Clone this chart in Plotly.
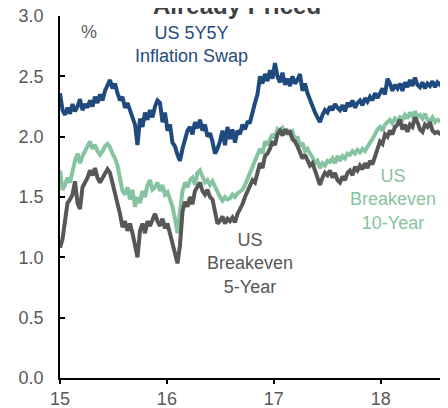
import numpy as np
import plotly.graph_objects as go

# sampling grid: decimal years (15 = 2015)
n_pts = 155
x_years = 15 + np.arange(n_pts) * (2.5 / 106.9)

swap_5y5y = [
    2.36, 2.22, 2.18, 2.24, 2.19, 2.27, 2.21, 2.25, 2.31, 2.22, 2.27, 2.24,
    2.30, 2.25, 2.33, 2.28, 2.35, 2.30, 2.38, 2.43, 2.47, 2.40, 2.44, 2.36,
    2.30, 2.33, 2.24, 2.28, 2.22, 2.18, 2.10, 1.93, 2.15, 2.08, 2.20, 2.14,
    2.22, 2.16, 2.25, 2.30, 2.28, 2.12, 2.20, 2.05, 2.10, 1.95, 1.92, 1.85,
    1.80, 1.90, 1.97, 2.05, 2.08, 2.02, 2.12, 2.07, 2.14, 2.05, 2.10, 2.00,
    2.03, 1.96, 1.86, 1.90, 1.96, 2.05, 1.93, 2.08, 1.98, 2.06, 1.95, 2.05,
    2.02, 2.10, 2.06, 2.12, 2.12, 2.22, 2.28, 2.35, 2.50, 2.44, 2.52, 2.46,
    2.55, 2.48, 2.61, 2.50, 2.45, 2.53, 2.43, 2.48, 2.42, 2.50, 2.44, 2.47,
    2.52, 2.38, 2.44, 2.36, 2.30, 2.26, 2.20, 2.16, 2.12, 2.18, 2.22, 2.20,
    2.25, 2.22, 2.27, 2.24, 2.22, 2.26, 2.21, 2.28, 2.25, 2.30, 2.24, 2.28,
    2.30, 2.26, 2.32, 2.29, 2.33, 2.30, 2.36, 2.32, 2.37, 2.40, 2.35, 2.48,
    2.44, 2.38, 2.43, 2.40, 2.44, 2.38, 2.45, 2.41, 2.47, 2.42, 2.49, 2.43,
    2.41, 2.45, 2.40, 2.44, 2.42, 2.46, 2.41, 2.45, 2.43, 2.46, 2.44,
]

breakeven_10y = [
    1.72, 1.56, 1.60, 1.66, 1.62, 1.72, 1.80, 1.86, 1.78, 1.84, 1.88, 1.92,
    1.96, 1.90, 1.93, 1.88, 1.85, 1.88, 1.92, 1.94, 1.91, 1.86, 1.82, 1.76,
    1.66, 1.55, 1.52, 1.58, 1.48, 1.56, 1.42, 1.50, 1.45, 1.55, 1.50, 1.60,
    1.64, 1.56, 1.58, 1.62, 1.55, 1.60, 1.52, 1.54, 1.48, 1.42, 1.32, 1.20,
    1.38, 1.55, 1.62, 1.58, 1.64, 1.66, 1.60, 1.70, 1.72, 1.66, 1.62, 1.64,
    1.60, 1.63, 1.58, 1.54, 1.50, 1.47, 1.50, 1.48, 1.49, 1.52, 1.50, 1.53,
    1.55, 1.56, 1.60, 1.65, 1.70, 1.76, 1.80, 1.86, 1.90, 1.86, 1.96, 1.93,
    1.98, 2.02, 1.99, 2.06, 2.04, 2.07, 2.03, 2.05, 2.02, 2.04, 1.97, 2.00,
    1.92, 1.95, 1.88, 1.90, 1.86, 1.83, 1.78, 1.80, 1.74, 1.78, 1.76, 1.80,
    1.79, 1.82, 1.78, 1.84, 1.80, 1.84, 1.82, 1.86, 1.85, 1.88, 1.86, 1.89,
    1.87, 1.90, 1.88, 1.92, 1.95, 1.98, 2.02, 2.06, 2.08, 2.05, 2.10, 2.12,
    2.14, 2.11, 2.15, 2.13, 2.16, 2.14, 2.18, 2.15, 2.20, 2.17, 2.21, 2.16,
    2.18, 2.15, 2.19, 2.14, 2.13, 2.16, 2.12, 2.14, 2.13, 2.14, 2.13,
]

breakeven_5y = [
    1.08, 1.15, 1.30, 1.45, 1.48, 1.52, 1.63, 1.45, 1.40, 1.58, 1.62, 1.66,
    1.72, 1.68, 1.74, 1.66, 1.62, 1.66, 1.70, 1.73, 1.70, 1.62, 1.55, 1.45,
    1.36, 1.25, 1.30, 1.22, 1.28, 1.20, 1.08, 1.00, 1.22, 1.28, 1.20, 1.30,
    1.26, 1.32, 1.36, 1.30, 1.26, 1.32, 1.24, 1.28, 1.20, 1.12, 1.05, 0.95,
    1.10, 1.38, 1.46, 1.42, 1.50, 1.44, 1.55, 1.58, 1.62, 1.55, 1.52, 1.56,
    1.50, 1.48, 1.38, 1.28, 1.30, 1.34, 1.28, 1.32, 1.30, 1.33, 1.29, 1.36,
    1.40, 1.44, 1.50, 1.55, 1.58, 1.64, 1.62, 1.72, 1.78, 1.74, 1.84, 1.86,
    1.90, 1.96, 1.93, 2.02, 2.05, 2.01, 2.06, 2.03, 2.04, 1.98, 1.96, 1.92,
    1.86, 1.82, 1.85, 1.80, 1.76, 1.78, 1.72, 1.68, 1.60, 1.66, 1.70, 1.68,
    1.72, 1.66, 1.70, 1.64, 1.62, 1.67, 1.64, 1.70, 1.72, 1.68, 1.75, 1.72,
    1.76, 1.73, 1.78, 1.74, 1.80, 1.77, 1.84, 1.90, 1.96, 1.94, 2.02, 2.00,
    2.05, 2.02, 2.08, 2.10, 2.14, 2.06, 2.10, 2.04, 2.10, 2.08, 2.16, 2.12,
    2.06, 2.04, 2.10, 2.08, 2.12, 2.05, 2.03, 2.04, 2.02, 2.01, 2.02,
]

x_tick_vals = [15, 16, 17, 18]
x_tick_text = ["15", "16", "17", "18"]
y_tick_vals = [0.0, 0.5, 1.0, 1.5, 2.0, 2.5, 3.0]
y_tick_text = ["0.0", "0.5", "1.0", "1.5", "2.0", "2.5", "3.0"]

BLUE = "#1f4a7e"
GREEN = "#86c3a0"
GRAY = "#575757"
FONT = "Liberation Sans, Arial, sans-serif"

fig = go.Figure()
fig.add_trace(go.Scatter(x=x_years, y=breakeven_10y, mode="lines",
                         line=dict(color=GREEN, width=4), name="US Breakeven 10-Year"))
fig.add_trace(go.Scatter(x=x_years, y=breakeven_5y, mode="lines",
                         line=dict(color=GRAY, width=4), name="US Breakeven 5-Year"))
fig.add_trace(go.Scatter(x=x_years, y=swap_5y5y, mode="lines",
                         line=dict(color=BLUE, width=4), name="US 5Y5Y Inflation Swap"))

fig.update_layout(
    width=448, height=408,
    margin=dict(l=52, r=8, t=8, b=38, autoexpand=False),
    paper_bgcolor="white", plot_bgcolor="white",
    showlegend=False,
    font=dict(family=FONT, size=18, color="#595959"),
)
fig.update_xaxes(
    range=[15, 18.63], tickvals=x_tick_vals, ticktext=x_tick_text,
    showgrid=False, zeroline=False, showline=True, linecolor="black", linewidth=1.5,
    ticks="outside", ticklen=4, tickwidth=1.5, tickcolor="black",
    tickfont=dict(size=18, color="#595959"), ticklabeloverflow="allow",
    automargin=False,
)
fig.update_yaxes(
    range=[0, 3], tickvals=y_tick_vals, ticktext=y_tick_text,
    showgrid=False, zeroline=False, showline=True, linecolor="black", linewidth=1.5,
    ticks="inside", ticklen=5, tickwidth=1.5, tickcolor="black",
    tickfont=dict(size=18, color="#595959"), ticklabelstandoff=11,
    ticklabeloverflow="allow", automargin=False,
)

ann = [
    dict(text="<b>Already Priced</b>", x=0.455, y=1, xref="paper", yref="paper",
         yanchor="bottom", yshift=-5, font=dict(size=24, color="#404040")),
    dict(text="%", x=15.27, y=2.87, font=dict(size=18, color="#595959")),
    dict(text="US 5Y5Y<br>Inflation Swap", x=16.23, y=2.76, font=dict(size=18, color=BLUE)),
    dict(text="US<br>Breakeven<br>10-Year", x=18.12, y=1.48, font=dict(size=18, color=GREEN)),
    dict(text="US<br>Breakeven<br>5-Year", x=16.78, y=0.95, font=dict(size=18, color=GRAY)),
]
for a in ann:
    a.setdefault("xref", "x")
    a.setdefault("yref", "y")
    a["showarrow"] = False
    a["font"]["family"] = FONT
    fig.add_annotation(**a)

fig.write_html("out.html")
